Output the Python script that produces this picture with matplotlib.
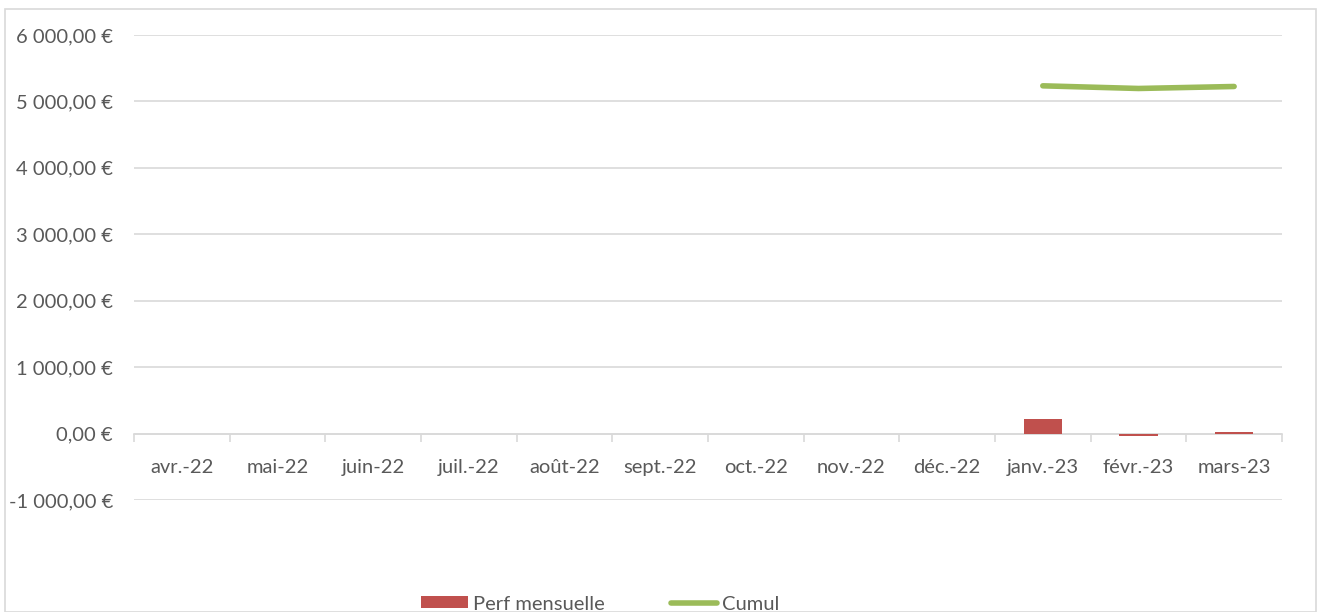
import numpy as np
import matplotlib.pyplot as plt
from matplotlib.ticker import FuncFormatter, FixedLocator
from matplotlib.patches import Rectangle

months = ['avr.-22', 'mai-22', 'juin-22', 'juil.-22', 'août-22', 'sept.-22',
          'oct.-22', 'nov.-22', 'déc.-22', 'janv.-23', 'févr.-23', 'mars-23']
perf = [0, 0, 0, 0, 0, 0, 0, 0, 0, 225, -30, 20]
cumul = [np.nan] * 9 + [5235, 5195, 5225]

plt.rcParams['font.family'] = ['Lato', 'DejaVu Sans']

def euro(v, pos):
    s = '{:,.2f}'.format(v).replace(',', ' ').replace('.', ',')
    return s + ' €'

fig = plt.figure(figsize=(13.17, 6.12), dpi=100)
ax = fig.add_axes([0.1017, 0.183, 0.8717, 0.7598])

x = np.arange(len(months))
bars = ax.bar(x, perf, width=0.4, color='#C0504D', label='Perf mensuelle', zorder=3)
line, = ax.plot(x, cumul, color='#9BBB59', linewidth=4, solid_capstyle='round',
                label='Cumul', zorder=4)

ax.set_xlim(-0.5, len(months) - 0.5)
ax.set_ylim(-1000, 6000)
ax.set_yticks(np.arange(-1000, 6001, 1000))
ax.yaxis.set_major_formatter(FuncFormatter(euro))
ax.grid(axis='y', color='#D9D9D9', linewidth=1.2, zorder=0)

ax.set_xticks(x)
ax.set_xticklabels(months)
ax.xaxis.set_minor_locator(FixedLocator(np.arange(-0.5, len(months), 1)))
ax.tick_params(axis='x', which='major', length=0, pad=18, labelsize=14.5, labelcolor='#595959')
ax.tick_params(axis='x', which='minor', length=6, color='#D9D9D9', width=1.2)
ax.tick_params(axis='y', length=0, pad=15, labelsize=14.5, labelcolor='#595959')

for s in ['top', 'right', 'left']:
    ax.spines[s].set_visible(False)
ax.spines['bottom'].set_position(('data', 0))
ax.spines['bottom'].set_color('#D9D9D9')
ax.spines['bottom'].set_linewidth(1.2)
ax.spines['bottom'].set_zorder(2)

fig.legend(handles=[bars, line], loc='center', bbox_to_anchor=(0.456, 0.013), ncol=2,
           frameon=False, fontsize=14.5, labelcolor='#595959', handlelength=2.3,
           handleheight=0.55, handletextpad=0.25, columnspacing=3.3)

fig.patches.append(Rectangle((0.004, 0.0), 0.995, 0.985, transform=fig.transFigure,
                             fill=False, edgecolor='#D9D9D9', linewidth=1.2))

fig.savefig('out.png', dpi=100)
